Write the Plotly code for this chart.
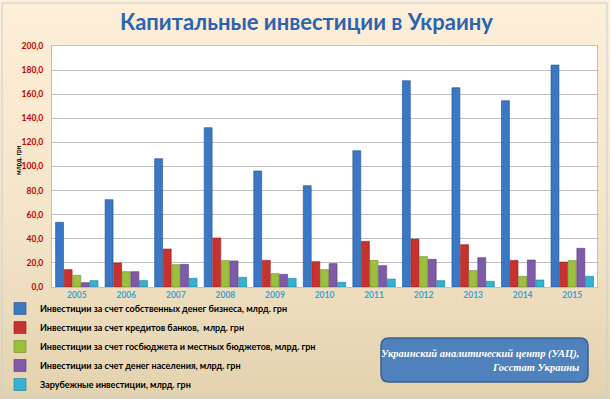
import plotly.graph_objects as go
import base64

years = ["2005", "2006", "2007", "2008", "2009", "2010", "2011", "2012", "2013", "2014", "2015"]
business = [53.7, 72.5, 106.5, 132.2, 96.3, 84.1, 113.1, 171.2, 165.4, 154.6, 184.2]
banks = [14.4, 19.9, 31.5, 40.7, 22.1, 21.0, 37.9, 39.8, 35.1, 22.1, 20.7]
budget = [9.7, 12.7, 18.5, 21.9, 11.1, 14.4, 22.1, 25.2, 13.6, 8.9, 21.9]
population = [3.6, 12.7, 18.8, 21.6, 10.5, 19.4, 17.7, 23.0, 24.3, 22.4, 32.1]
foreign = [5.3, 5.3, 7.2, 8.0, 7.2, 3.9, 6.6, 5.3, 4.7, 5.8, 8.9]

series_names = [
    "Инвестиции за счет собственных денег бизнеса, млрд. грн",
    "Инвестиции за счет кредитов банков,  млрд. грн",
    "Инвестиции за счет госбюджета и местных бюджетов, млрд. грн",
    "Инвестиции за счет денег населения, млрд. грн",
    "Зарубежные инвестиции, млрд. грн",
]
series_values = [business, banks, budget, population, foreign]
colors = ["#3A78C6", "#C8322E", "#9CBF3C", "#7F5AA8", "#33B2D2"]
edge = ["#24508C", "#8E1F1C", "#6E8A26", "#56397A", "#1E7E96"]

W, H = 610, 399
L, R, T, B = 52, 13, 46, 112
pw, ph = W - L - R, H - T - B

def px(x):
    return (x - L) / pw

def py(y):
    return (H - B - y) / ph

fig = go.Figure()
for name, vals, c, e in zip(series_names, series_values, colors, edge):
    fig.add_trace(go.Bar(
        x=years, y=vals, name=name,
        marker=dict(color=c, line=dict(color=e, width=0.6)),
    ))

svg = ('<svg xmlns="http://www.w3.org/2000/svg" width="610" height="399">'
       '<defs><linearGradient id="g" x1="0" y1="0" x2="0" y2="1">'
       '<stop offset="0" stop-color="#FDEFD8"/><stop offset="0.6" stop-color="#F3E3C6"/>'
       '<stop offset="1" stop-color="#E2D2AE"/></linearGradient></defs>'
       '<rect width="610" height="399" fill="url(#g)"/></svg>')
src = "data:image/svg+xml;base64," + base64.b64encode(svg.encode()).decode()

fig.update_layout(
    width=W, height=H,
    margin=dict(l=L, r=R, t=T, b=B, autoexpand=False),
    paper_bgcolor="#F5E6CA",
    plot_bgcolor="white",
    barmode="group",
    bargap=0.13,
    bargroupgap=0.08,
    separators=", ",
    font=dict(family="Lato, 'Open Sans', sans-serif"),
    images=[dict(source=src, xref="paper", yref="paper",
                 x=px(0), y=py(0), sizex=W / pw, sizey=H / ph,
                 xanchor="left", yanchor="top", sizing="stretch", layer="below")],
    shapes=[
        dict(type="rect", xref="paper", yref="paper", x0=0, x1=1, y0=0, y1=1,
             fillcolor="white", line=dict(width=0), layer="below"),
        dict(type="rect", xref="paper", yref="paper", x0=px(2), x1=px(607), y0=py(396), y1=py(3),
             line=dict(color="#C4D0DC", width=1), layer="below"),
    ],
    xaxis=dict(
        tickfont=dict(size=8.5, color="#35A3D3", family="Lato, sans-serif", weight="bold"),
        showline=True, linecolor="#BFBFBF", mirror=True, ticks="",
        automargin=False,
    ),
    yaxis=dict(
        range=[0, 200], dtick=20, tickformat=".1f",
        tickfont=dict(size=8.5, color="#C00000", family="Lato, sans-serif", weight="bold"),
        gridcolor="#BFBFBF", gridwidth=1,
        showline=True, linecolor="#BFBFBF", mirror=True, ticks="",
        zeroline=False, ticklabelstandoff=6, automargin=False,
    ),
    legend=dict(
        x=0, y=1 - 294 / H, xref="container", yref="container",
        xanchor="left", yanchor="top",
        orientation="v", bgcolor="rgba(0,0,0,0)",
        font=dict(size=9, color="black", family="Lato, sans-serif", weight="bold"),
        traceorder="normal",
    ),
    showlegend=True,
)

# rounded text box (source)
x0, x1, y0, y1 = px(381), px(588), py(382), py(338)
rx, ry = 8 / pw, 8 / ph
path = (f"M{x0+rx},{y0} L{x1-rx},{y0} Q{x1},{y0} {x1},{y0+ry} L{x1},{y1-ry} Q{x1},{y1} {x1-rx},{y1} "
        f"L{x0+rx},{y1} Q{x0},{y1} {x0},{y1-ry} L{x0},{y0+ry} Q{x0},{y0} {x0+rx},{y0} Z")
fig.add_shape(type="path", xref="paper", yref="paper", path=path,
              fillcolor="#4F81BD", line=dict(color="#3A5F8E", width=1.5))

fig.add_annotation(
    xref="paper", yref="paper", x=px(581), y=py(360), xanchor="right", yanchor="middle",
    text="<b><i>Украинский аналитический центр (УАЦ),<br>Госстат Украины</i></b>",
    align="right", showarrow=False,
    font=dict(family="'Liberation Serif', serif", size=10.5, color="white"),
)

fig.add_annotation(
    xref="paper", yref="paper", x=px(306), y=py(22), xanchor="center", yanchor="middle",
    text="<b>Капитальные инвестиции в Украину</b>", showarrow=False,
    font=dict(family="Lato, sans-serif", size=22, color="#2E63AE"),
)

fig.add_annotation(
    xref="paper", yref="paper", x=px(18), y=py(160), xanchor="center", yanchor="middle",
    text="<b>млрд. грн</b>", textangle=-90, showarrow=False,
    font=dict(family="Lato, sans-serif", size=6.5, color="black"),
)

fig.write_html("out.html", config={"displayModeBar": False},
               post_script="document.body.style.margin='0';")
